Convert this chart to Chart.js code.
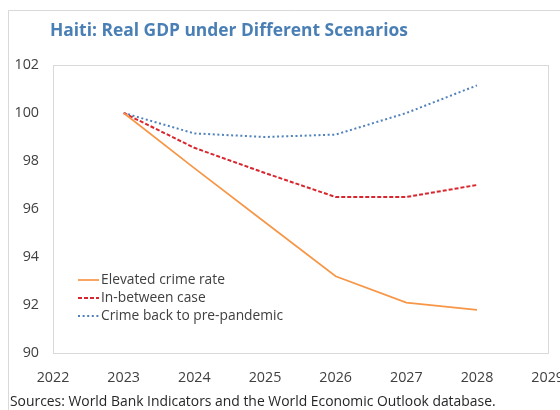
<!DOCTYPE html>
<html>
<head>
<meta charset="utf-8">
<script src="https://cdn.jsdelivr.net/npm/chart.js@4/dist/chart.umd.min.js"></script>
<style>
  html, body { margin: 0; padding: 0; background: #fff; overflow: hidden; width: 560px; height: 410px; }
  #wrap { width: 580px; height: 410px; }
</style>
</head>
<body>
<div id="wrap"><canvas id="c" width="580" height="410"></canvas></div>
<script>
// Projection years and real GDP index (2023 = 100) for each scenario
const years = [2023, 2024, 2025, 2026, 2027, 2028];
const elevatedCrime = [100, 97.7, 95.45, 93.2, 92.1, 91.8];
const inBetweenCase = [100, 98.55, 97.5, 96.5, 96.5, 97.0];
const backToPrePandemic = [100, 99.15, 99.0, 99.1, 100.0, 101.15];

// Axis tick labels
const xTickValues = [2022, 2023, 2024, 2025, 2026, 2027, 2028, 2029];
const yTickValues = [90, 92, 94, 96, 98, 100, 102];

const seriesNames = ['Elevated crime rate', 'In-between case', 'Crime back to pre-pandemic'];
const titleText = 'Haiti: Real GDP under Different Scenarios';
const sourceText = 'Sources: World Bank Indicators and the World Economic Outlook database.';

const FONT = '"Open Sans", "Noto Sans", sans-serif';
const TEXT = '#404040';
const FRAME = '#d9d9d9';

const toPoints = vals => years.map((yr, i) => ({ x: yr, y: vals[i] }));

const styles = [
  { color: '#f79646', width: 1.7, dash: [] },
  { color: '#d9262e', width: 2, dash: [4, 2] },
  { color: '#4f81bd', width: 2, dash: [2, 2.6] }
];

const decorations = {
  id: 'decorations',
  beforeDraw(chart) {
    const { ctx, chartArea: a } = chart;
    ctx.save();
    ctx.fillStyle = '#fff';
    ctx.fillRect(0, 0, chart.width, chart.height);
    ctx.strokeStyle = FRAME;
    ctx.lineWidth = 1;
    // outer frame
    ctx.beginPath();
    ctx.moveTo(8.5, chart.height);
    ctx.lineTo(8.5, 10.5);
    ctx.lineTo(chart.width, 10.5);
    ctx.stroke();
    // plot area border
    ctx.strokeRect(Math.round(a.left) + 0.5, Math.round(a.top) + 0.5,
                   Math.round(a.right - a.left), Math.round(a.bottom - a.top));
    ctx.restore();
  },
  afterDraw(chart) {
    const { ctx } = chart;
    ctx.save();
    // title
    ctx.fillStyle = '#4a7fb5';
    ctx.font = 'bold 17.4px ' + FONT;
    ctx.textBaseline = 'middle';
    ctx.textAlign = 'left';
    ctx.fillText(titleText, 50, 31);
    // source note
    ctx.fillStyle = '#262626';
    ctx.font = '13.9px ' + FONT;
    ctx.fillText(sourceText, 10, 402);
    // legend inside plot area
    ctx.font = '13.8px ' + FONT;
    seriesNames.forEach((name, i) => {
      const y = 280 + i * 18;
      const s = styles[i];
      ctx.strokeStyle = s.color;
      ctx.lineWidth = s.width;
      ctx.setLineDash(s.dash);
      ctx.beginPath();
      ctx.moveTo(78, y);
      ctx.lineTo(99, y);
      ctx.stroke();
      ctx.setLineDash([]);
      ctx.fillStyle = TEXT;
      ctx.fillText(name, 101, y);
    });
    ctx.restore();
  }
};

new Chart(document.getElementById('c'), {
  type: 'line',
  data: {
    datasets: [elevatedCrime, inBetweenCase, backToPrePandemic].map((vals, i) => ({
      label: seriesNames[i],
      data: toPoints(vals),
      borderColor: styles[i].color,
      borderWidth: styles[i].width,
      borderDash: styles[i].dash,
      pointRadius: 0,
      tension: 0,
      fill: false
    }))
  },
  options: {
    responsive: false,
    animation: false,
    layout: { padding: { top: 65, right: 32, left: 0, bottom: 0 } },
    plugins: { legend: { display: false }, title: { display: false }, tooltip: { enabled: false } },
    scales: {
      x: {
        type: 'linear',
        min: xTickValues[0],
        max: xTickValues[xTickValues.length - 1],
        afterBuildTicks: s => { s.ticks = xTickValues.map(v => ({ value: v })); },
        afterFit: s => { s.height = 57; },
        grid: { display: false, drawTicks: false },
        border: { display: false },
        ticks: { padding: 16, color: TEXT, font: { family: FONT, size: 14.3 }, maxRotation: 0, autoSkip: false,
                 callback: v => String(v) }
      },
      y: {
        min: yTickValues[0],
        max: yTickValues[yTickValues.length - 1],
        afterBuildTicks: s => { s.ticks = yTickValues.map(v => ({ value: v })); },
        afterFit: s => { s.width = 53; },
        grid: { display: false, drawTicks: false },
        border: { display: false },
        ticks: { padding: 14, color: TEXT, font: { family: FONT, size: 14.3 }, callback: v => String(v) }
      }
    }
  },
  plugins: [decorations]
});
</script>
</body>
</html>
